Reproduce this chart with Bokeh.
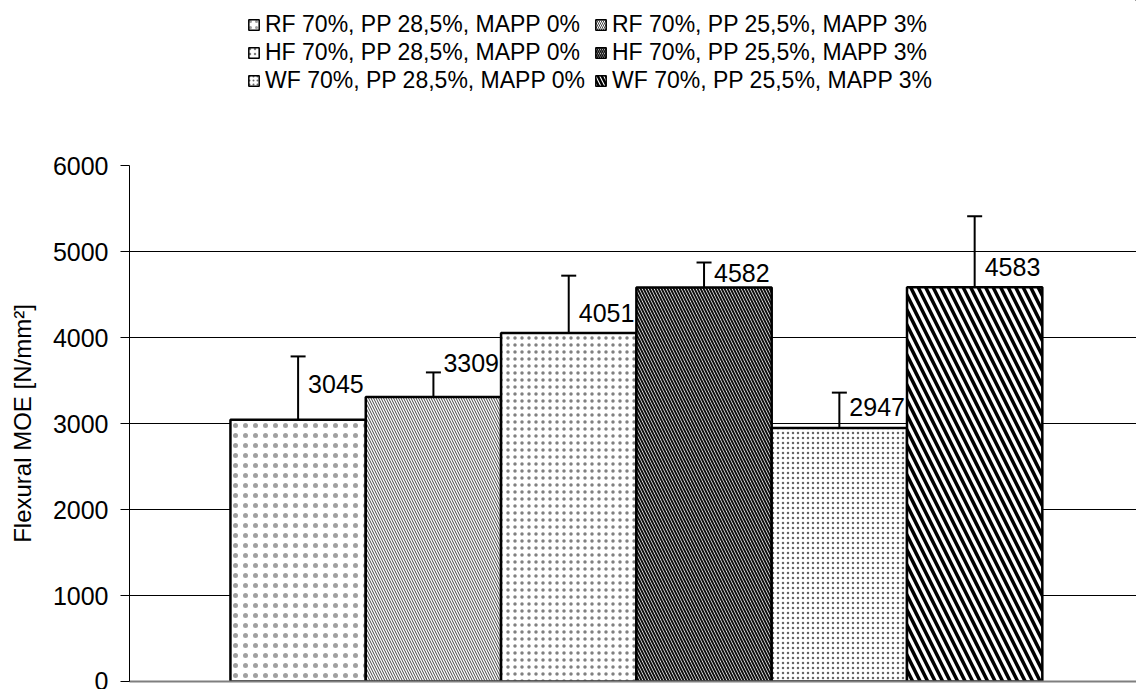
from bokeh.plotting import figure
from bokeh.layouts import column
from bokeh.models import ColumnDataSource, Legend, LegendItem, Whisker, FixedTicker, TeeHead, Range1d
from bokeh.core.properties import value
from bokeh.embed import file_html
from bokeh.resources import INLINE

# ---- data ----
series = ["RF 70%, PP 28,5%, MAPP 0%", "RF 70%, PP 25,5%, MAPP 3%",
          "HF 70%, PP 28,5%, MAPP 0%", "HF 70%, PP 25,5%, MAPP 3%",
          "WF 70%, PP 28,5%, MAPP 0%", "WF 70%, PP 25,5%, MAPP 3%"]
moe = [3045, 3309, 4051, 4582, 2947, 4583]
moe_err = [735, 285, 668, 290, 412, 827]
y_ticks = [0, 1000, 2000, 3000, 4000, 5000, 6000]
y_title = "Flexural MOE [N/mm²]"

# ---- styles ----
positions = [1, 2, 3, 4, 5, 6]
hatch_patterns = ["dot", "left_diagonal_line", "dot", "left_diagonal_line", "dot", "left_diagonal_line"]
hatch_scales = [10, 5, 7, 6, 5, 15]
hatch_weights = [0.6, 1, 0.6, 2, 0.6, 3.5]
hatch_colors = ["#a0a0a0", "#444444", "#808080", "#111111", "#666666", "#000000"]
legend_scales = [6, 4, 5, 4, 4, 8]
legend_weights = [0.6, 1, 0.6, 1.5, 0.6, 2.5]
label_dy = [36, 34, 20, 14, 21, 20]
FONT = "Liberation Sans"

W = 1136
H_TOP = 110
H_MAIN = 579

# ---- main plot ----
p = figure(width=W, height=H_MAIN, output_backend="svg", toolbar_location=None,
           x_range=Range1d(-0.246, 7.196), y_range=Range1d(0, 6000),
           min_border_left=129, min_border_right=0, min_border_top=55, min_border_bottom=8)
p.outline_line_color = None
p.xgrid.visible = False
p.ygrid.ticker = FixedTicker(ticks=y_ticks)
p.ygrid.grid_line_color = "#000000"
p.ygrid.grid_line_width = 1

p.yaxis.ticker = FixedTicker(ticks=y_ticks)
p.yaxis.axis_line_color = "#000000"
p.yaxis.major_tick_out = 9
p.yaxis.major_tick_in = 0
p.yaxis.minor_tick_line_color = None
p.yaxis.major_label_text_font = FONT
p.yaxis.major_label_text_font_size = "25px"
p.yaxis.major_label_text_color = "#000000"
p.yaxis.major_label_standoff = 12
p.yaxis.axis_label = y_title
p.yaxis.axis_label_text_font = FONT
p.yaxis.axis_label_text_font_size = "24px"
p.yaxis.axis_label_text_font_style = "normal"
p.yaxis.axis_label_text_color = "#000000"
p.yaxis.axis_label_standoff = 14

p.xaxis.ticker = FixedTicker(ticks=[])
p.xaxis.major_label_text_font_size = "0px"
p.xaxis.major_tick_line_color = None
p.xaxis.minor_tick_line_color = None
p.xaxis.axis_line_color = "#7f7f7f"
p.xaxis.axis_line_width = 2

for i in range(len(series)):
    src = ColumnDataSource(dict(x=[positions[i]], top=[moe[i]]))
    p.vbar(x="x", top="top", bottom=0, width=1.0, source=src,
           fill_color="white", line_color="black", line_width=2.5,
           hatch_pattern=hatch_patterns[i], hatch_scale=hatch_scales[i],
           hatch_weight=hatch_weights[i], hatch_color=hatch_colors[i])

err_src = ColumnDataSource(dict(
    x=positions,
    upper=[m + e for m, e in zip(moe, moe_err)],
    lower=[m - e for m, e in zip(moe, moe_err)],
))
w = Whisker(base="x", upper="upper", lower="lower", source=err_src,
            line_color="black", line_width=2,
            upper_head=TeeHead(size=15, line_width=2, line_color="black"),
            lower_head=TeeHead(size=15, line_width=2, line_color="black"))
p.add_layout(w)

lab_src = ColumnDataSource(dict(x=positions, y=moe, t=[str(v) for v in moe],
                                dy=[-d for d in label_dy]))
p.text(x="x", y="y", text="t", source=lab_src, x_offset=10, y_offset="dy",
       text_font=value(FONT), text_font_size="25px", text_color="black",
       text_align="left", text_baseline="middle")

# ---- legend strip ----
lg = figure(width=W, height=H_TOP, output_backend="svg", toolbar_location=None,
            x_range=Range1d(0, 1), y_range=Range1d(0, 1),
            x_axis_location=None, y_axis_location=None,
            min_border_left=0, min_border_right=0, min_border_top=0, min_border_bottom=0)
lg.outline_line_color = None
lg.xgrid.visible = False
lg.ygrid.visible = False

items = []
for i in range(len(series)):
    # off-range dummy bar: only its legend swatch is seen
    r = lg.vbar(x=[5], top=[5], bottom=4, width=1.0,
                fill_color="white", line_color="black", line_width=1.5,
                hatch_pattern=hatch_patterns[i], hatch_scale=legend_scales[i],
                hatch_weight=legend_weights[i], hatch_color=hatch_colors[i])
    items.append(LegendItem(label=series[i], renderers=[r]))

legend = Legend(items=items, orientation="horizontal", ncols=2,
                location=(118, 16), border_line_color=None, background_fill_alpha=0,
                padding=0, margin=0, spacing=1, glyph_width=13, glyph_height=13,
                label_width=328, label_height=26, label_standoff=5,
                label_text_font=FONT, label_text_font_size="23px", label_text_color="black")
lg.add_layout(legend)

open("out.html", "w").write(file_html(column(lg, p, spacing=0), INLINE))
